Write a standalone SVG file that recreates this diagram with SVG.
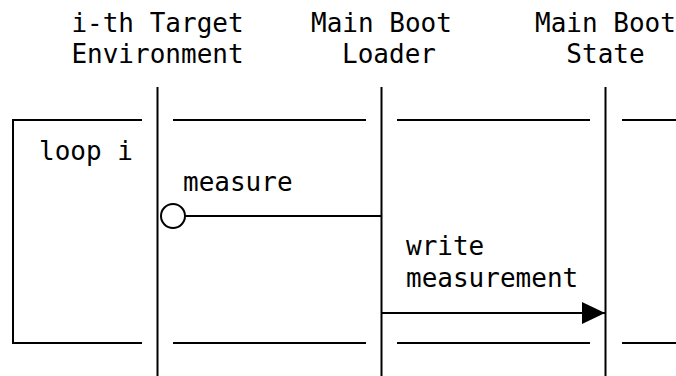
<svg xmlns="http://www.w3.org/2000/svg" width="676" height="376" viewBox="0 0 676 376">
<style>
text{font-family:"DejaVu Sans Mono","Liberation Mono",monospace;font-size:26px;fill:#000}
.ln{stroke:#000;stroke-width:2;fill:none}
.c{text-anchor:middle}
</style>
<defs>
<marker id="ah" markerUnits="userSpaceOnUse" markerWidth="24" markerHeight="24" refX="23" refY="11" orient="auto">
<path d="M0,0 L23,11 L0,22 Z" fill="#000"/>
</marker>
</defs>
<rect width="676" height="376" fill="#fff"/>
<g id="target">
<text class="c" x="157.5" y="32">i-th Target</text>
<text class="c" x="157.5" y="63">Environment</text>
<line class="ln" x1="157.5" y1="87" x2="157.5" y2="376"/>
</g>
<g id="loader">
<text class="c" x="381.5" y="32">Main Boot</text>
<text class="c" x="389" y="63">Loader</text>
<line class="ln" x1="381.5" y1="87" x2="381.5" y2="376"/>
</g>
<g id="state">
<text class="c" x="605.5" y="32">Main Boot</text>
<text class="c" x="605.5" y="63">State</text>
<line class="ln" x1="605.5" y1="87" x2="605.5" y2="376"/>
</g>
<g id="loop">
<path class="ln" d="M142,120 H13 V343 H142"/>
<path class="ln" d="M173,120 H366 M397,120 H590 M622,120 H676"/>
<path class="ln" d="M173,343 H366 M397,343 H590 M622,343 H676"/>
<text x="39" y="160">loop i</text>
</g>
<g id="connectors">
<circle class="ln" cx="173" cy="216" r="12"/>
<line class="ln" x1="185" y1="216" x2="381.5" y2="216"/>
<text x="183" y="191">measure</text>
<line class="ln" x1="381.5" y1="313" x2="605" y2="313" marker-end="url(#ah)"/>
<text x="406" y="255">write</text>
<text x="406" y="287">measurement</text>
</g>
</svg>
